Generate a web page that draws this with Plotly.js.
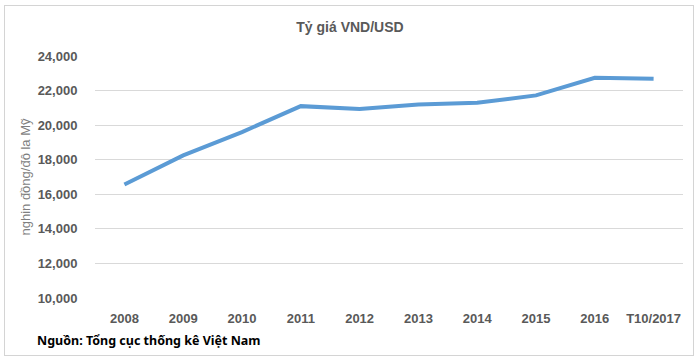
<!DOCTYPE html>
<html>
<head>
<meta charset="utf-8">
<script src="https://cdn.plot.ly/plotly-3.0.1.min.js"></script>
<style>
html,body{margin:0;padding:0;background:#fff;}
#chart{width:700px;height:358px;position:absolute;left:0;top:0;}
#frame{position:absolute;left:4px;top:5px;width:688px;height:349px;border:1px solid #d4d4d4;pointer-events:none;}
</style>
</head>
<body>
<div id="chart"></div>
<div id="frame"></div>
<script>
var categories = ["2008","2009","2010","2011","2012","2013","2014","2015","2016","T10/2017"];
var rates = [16570, 18250, 19600, 21100, 20930, 21190, 21290, 21720, 22740, 22680];
var yTicks = [10000, 12000, 14000, 16000, 18000, 20000, 22000, 24000];

var trace = {
  x: categories,
  y: rates,
  type: "scatter",
  mode: "lines",
  line: {color: "#5b9bd5", width: 4},
  hoverinfo: "x+y"
};

var layout = {
  width: 700,
  height: 358,
  margin: {l: 95, r: 17, t: 56, b: 60},
  paper_bgcolor: "#ffffff",
  plot_bgcolor: "#ffffff",
  showlegend: false,
  title: {
    text: "Tỷ giá VND/USD",
    font: {family: "Arial, Liberation Sans, sans-serif", size: 14, color: "#595959", weight: "bold"},
    x: 0.5, xanchor: "center", y: 0.925, yanchor: "middle"
  },
  xaxis: {
    type: "category",
    range: [-0.5, 9.5],
    showgrid: false,
    zeroline: false,
    showline: false,
    ticks: "outside",
    ticklen: 8,
    tickcolor: "rgba(0,0,0,0)",
    tickfont: {family: "Arial, Liberation Sans, sans-serif", size: 13, color: "#595959", weight: "bold"}
  },
  yaxis: {
    range: [10000, 24000],
    tickvals: yTicks,
    tickformat: ",d",
    showgrid: true,
    gridcolor: "#d9d9d9",
    gridwidth: 1,
    zeroline: false,
    showline: false,
    ticks: "outside",
    ticklen: 14,
    tickcolor: "rgba(0,0,0,0)",
    tickfont: {family: "Arial, Liberation Sans, sans-serif", size: 13, color: "#595959", weight: "bold"},
    title: {
      text: "nghin đồng/đô la Mỹ",
      font: {family: "Arial, Liberation Sans, sans-serif", size: 13, color: "#7f7f7f"},
      standoff: 4
    }
  },
  annotations: [{
    text: "Nguồn: Tổng cục thống kê Việt Nam",
    xref: "paper", yref: "paper",
    x: (35 - 95) / 588, y: -(340 - 298) / 242,
    xanchor: "left", yanchor: "middle",
    showarrow: false,
    font: {family: "Noto Sans, Open Sans, sans-serif", size: 12.5, color: "#000000", weight: "bold"}
  }]
};

Plotly.newPlot("chart", [trace], layout, {displayModeBar: false, staticPlot: true});
</script>
</body>
</html>
